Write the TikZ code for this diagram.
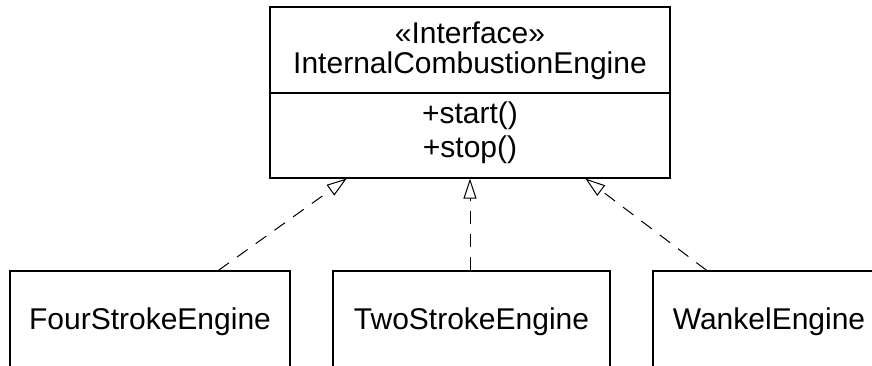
\documentclass[tikz,border=0pt]{standalone}
\usepackage{fontspec}
\setmainfont{Liberation Sans}
\usetikzlibrary{arrows.meta,calc}
\begin{document}
\begin{tikzpicture}[x=1pt,y=-1pt,
  umlbox/.style={draw, line width=1.1pt, rectangle, inner sep=0pt},
  lbl/.style={font=\fontsize{30}{32}\selectfont, inner sep=0pt, anchor=center},
  realize/.style={line width=1pt, dash pattern=on 13pt off 10pt,
    -{Triangle[open, length=20pt, width=13pt, line width=1pt]}}]
\useasboundingbox (0,0) rectangle (872,365);
\clip (0,0) rectangle (872,365);
\fill[white] (0,0) rectangle (872,365);
% interface box
\node[umlbox, minimum width=400pt, minimum height=171pt] (ice) at (470,92.5) {};
\coordinate (divl) at (270,93);
\coordinate (divr) at (670,93);
\draw[line width=1.1pt] (divl) -- (divr);
\node[lbl] (stereo) at (470,33) {«Interface»};
\node[lbl] (iname) at (470,66) {InternalCombustionEngine};
\node[lbl] (mstart) at (470,116) {+start()};
\node[lbl] (mstop) at (470,150) {+stop()};
% implementing classes
\node[umlbox, minimum width=280pt, minimum height=102pt, font=\fontsize{30}{32}\selectfont] (four) at (150,322) {FourStrokeEngine};
\node[umlbox, minimum width=277pt, minimum height=102pt, font=\fontsize{30}{32}\selectfont] (two) at (471.5,322) {TwoStrokeEngine};
\node[umlbox, minimum width=232pt, minimum height=102pt, font=\fontsize{30}{32}\selectfont] (wankel) at (769,322) {WankelEngine};
% realizations
\draw[realize] ($(four.north west)!0.743!(four.north east)$) -- ($(ice.south west)!0.1925!(ice.south east)$);
\draw[realize] (two.north -| ice.south) -- (ice.south);
\draw[realize] ($(wankel.north west)!0.233!(wankel.north east)$) -- ($(ice.south west)!0.7875!(ice.south east)$);
\end{tikzpicture}
\end{document}
